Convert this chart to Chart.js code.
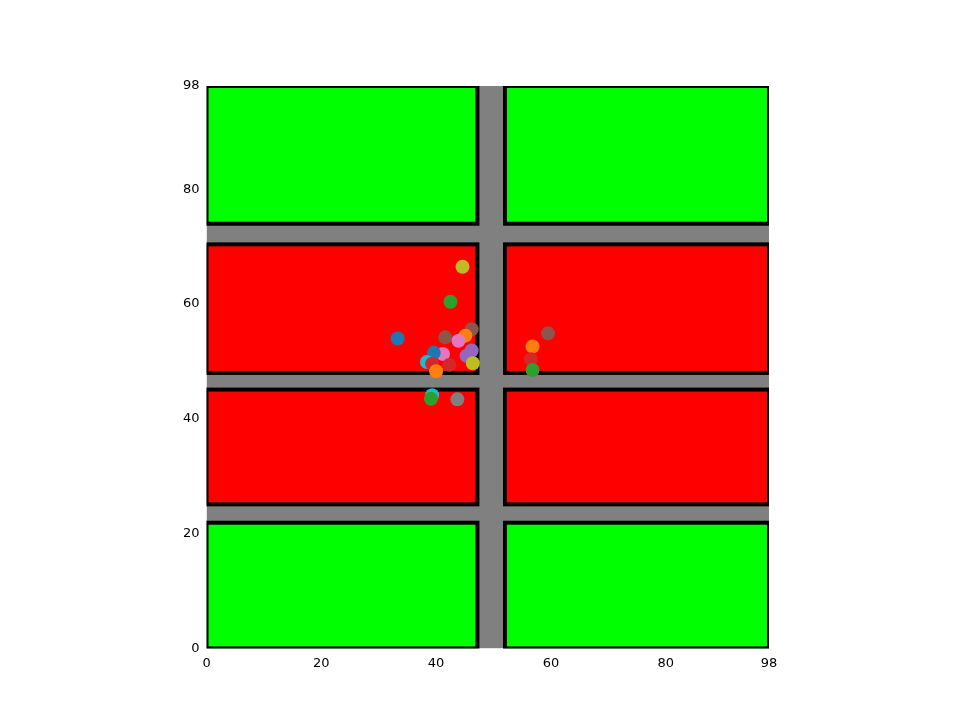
<!DOCTYPE html>
<html><head>
<script src="https://cdn.jsdelivr.net/npm/chart.js@4"></script>
<style>body{margin:0;background:#fff}#wrap{width:960px;height:720px}</style>
</head><body><div id="wrap"><canvas id="chart"></canvas></div>
<script>
// blocks: [x0, x1, y0, y1, colour]
var blocks = [
	[0, 47.2, 74, 98, '#00ff00'], [52, 98, 74, 98, '#00ff00'],
	[0, 47.2, 48, 70.4, '#ff0000'], [52, 98, 48, 70.4, '#ff0000'],
	[0, 47.2, 25.1, 45.1, '#ff0000'], [52, 98, 25.1, 45.1, '#ff0000'],
	[0, 47.2, 0, 21.9, '#00ff00'], [52, 98, 0, 21.9, '#00ff00']
];
var agentX = [44.6, 42.5, 33.3, 46.2, 41.6, 45.1, 43.9, 46.2, 45.3, 46.4, 41.2, 39.6, 38.4, 39.3, 42.3, 40.0, 39.3, 39.1, 43.7, 59.5, 56.8, 56.5, 56.8];
var agentY = [66.5, 60.4, 54.0, 55.6, 54.2, 54.5, 53.6, 51.9, 51.0, 49.7, 51.3, 51.5, 49.9, 49.6, 49.4, 48.3, 44.1, 43.5, 43.4, 54.9, 52.6, 50.4, 48.5];
var agentColors = ['#bcbd22', '#2ca02c', '#1f77b4', '#8c564b', '#8c564b', '#ff7f0e', '#e377c2', '#9467bd', '#9467bd', '#bcbd22', '#e377c2', '#1f77b4', '#17becf', '#d62728', '#d62728', '#ff7f0e', '#17becf', '#2ca02c', '#7f7f7f', '#8c564b', '#ff7f0e', '#d62728', '#2ca02c'];

var background = {
	id: 'background',
	beforeDatasetsDraw: function (chart) {
		var c = chart.ctx, xs = chart.scales.x, ys = chart.scales.y, a = chart.chartArea;
		c.save();
		c.beginPath(); c.rect(a.left, a.top, a.right - a.left, a.bottom - a.top); c.clip();
		c.fillStyle = '#808080';
		c.fillRect(a.left, a.top, a.right - a.left, a.bottom - a.top);
		blocks.forEach(function (b) {
			var x0 = xs.getPixelForValue(b[0]), x1 = xs.getPixelForValue(b[1]);
			var y0 = ys.getPixelForValue(b[3]), y1 = ys.getPixelForValue(b[2]);
			c.fillStyle = b[4];
			c.fillRect(x0, y0, x1 - x0, y1 - y0);
			c.strokeStyle = '#000'; c.lineWidth = 4;
			c.strokeRect(x0, y0, x1 - x0, y1 - y0);
		});
		c.restore();
	}
};

var ctx = document.getElementById('chart').getContext('2d');
new Chart(ctx, {
	type: 'scatter',
	data: {
		datasets: [{
			data: agentX.map(function (x, i) { return { x: x, y: agentY[i] }; }),
			backgroundColor: agentColors,
			borderWidth: 0,
			pointRadius: 7
		}]
	},
	options: {
		responsive: true, maintainAspectRatio: false, animation: false,
		layout: { padding: { left: 180, right: 191, top: 86, bottom: 46 } },
		plugins: { legend: { display: false }, tooltip: { enabled: false } },
		scales: {
			x: {
				min: 0, max: 98,
				grid: { display: false, drawTicks: true, tickLength: 4, tickColor: '#000' },
				border: { display: false },
				ticks: { stepSize: 20, color: '#000', font: { family: 'DejaVu Sans', size: 13 } }
			},
			y: {
				min: 0, max: 98,
				grid: { display: false, tickLength: 4, tickColor: '#000' },
				border: { display: false },
				ticks: { stepSize: 20, color: '#000', font: { family: 'DejaVu Sans', size: 13 } }
			}
		}
	},
	plugins: [background]
});
</script></body></html>
